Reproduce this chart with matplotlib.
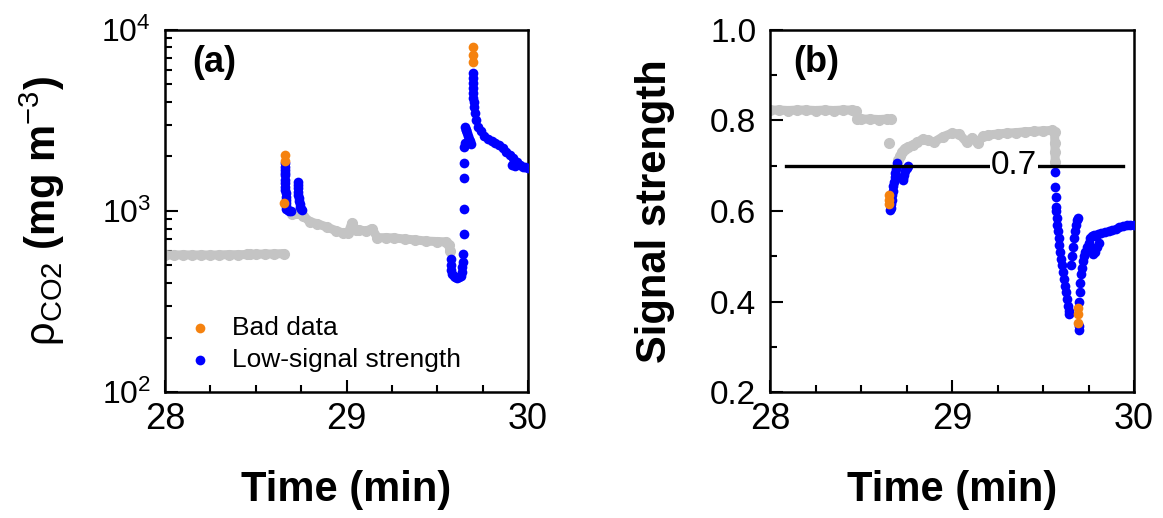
import matplotlib
matplotlib.use('Agg')
import matplotlib.pyplot as plt
from matplotlib.ticker import MultipleLocator, LogLocator, NullFormatter, FormatStrFormatter

plt.rcParams['font.family'] = ['Liberation Sans', 'DejaVu Sans']
plt.rcParams['mathtext.fontset'] = 'custom'
plt.rcParams['mathtext.rm'] = 'Liberation Sans'
plt.rcParams['mathtext.it'] = 'Liberation Sans:italic'
plt.rcParams['mathtext.bf'] = 'Liberation Sans:bold'
plt.rcParams['mathtext.default'] = 'regular'

GRAY = '#c4c4c4'
BLUE = '#0000ff'
ORANGE = '#f5820f'

# ---------------- Panel (a): CO2 density (mg m-3) ----------------
gray_a1_t = [28.00, 28.05, 28.10, 28.15, 28.20, 28.25, 28.30, 28.35, 28.40, 28.45, 28.47, 28.50, 28.55, 28.60, 28.655]
gray_a1_v = [572, 571, 573, 571, 572, 571, 572, 574, 573, 575, 578, 577, 579, 579, 582]

gray_a2_t = [28.700, 28.720, 28.760, 28.800, 28.840, 28.890, 28.940, 28.980, 29.010, 29.030, 29.050, 29.070,
             29.110, 29.140, 29.170, 29.220, 29.260, 29.320, 29.380, 29.440, 29.500, 29.550, 29.565, 29.570]
gray_a2_v = [960, 975, 940, 870, 850, 816, 780, 756, 760, 860, 790, 785,
             775, 800, 712, 712, 710, 700, 692, 682, 678, 675, 650, 600]

blue_a_t = [28.661, 28.661, 28.661, 28.662, 28.662, 28.663, 28.663, 28.663, 28.663, 28.664, 28.664, 28.665, 28.665,
            28.666, 28.668, 28.676, 28.685, 28.695,
            28.733, 28.733, 28.733, 28.734, 28.735, 28.736, 28.738, 28.742, 28.746, 28.750, 28.755,
            29.573, 29.575, 29.578, 29.582, 29.590, 29.600, 29.610, 29.620, 29.630, 29.635, 29.638, 29.640, 29.642,
            29.645, 29.645, 29.645, 29.646, 29.647, 29.655, 29.660, 29.653, 29.658, 29.663, 29.668, 29.673, 29.680, 29.688,
            29.697, 29.697, 29.697, 29.698, 29.698, 29.699, 29.700, 29.703, 29.708, 29.715, 29.725, 29.740, 29.760,
            29.780, 29.800, 29.820, 29.840, 29.860, 29.880, 29.900, 29.910, 29.920, 29.930, 29.940, 29.955, 29.970,
            29.985, 30.000]
blue_a_v = [1830, 1760, 1690, 1620, 1580, 1480, 1420, 1360, 1300, 1250, 1200, 1150, 1100,
            1060, 1030, 1015, 1005, 1000,
            1450, 1400, 1340, 1280, 1230, 1180, 1130, 1090, 1050, 1020, 1010,
            540, 500, 470, 450, 435, 430, 428, 430, 440, 460, 490, 520, 578,
            746, 1026, 1520, 1841, 2258, 2376, 2806, 2912, 2800, 2700, 2600, 2500, 2420, 2330,
            5780, 5400, 5090, 4780, 4490, 4230, 4000, 3750, 3480, 3200, 2910, 2750, 2600,
            2500, 2420, 2380, 2300, 2220, 2130, 2050, 1800, 1950, 1780, 1870, 1800, 1760,
            1740, 1720]

orange_a_t = [28.660, 28.660, 28.655, 29.697, 29.697, 29.697]
orange_a_v = [2040, 1890, 1100, 8050, 7280, 6660]

# ---------------- Panel (b): Signal strength ----------------
gray_b1_t = [28.00, 28.05, 28.10, 28.15, 28.20, 28.25, 28.30, 28.35, 28.40, 28.45, 28.475,
             28.480, 28.50, 28.55, 28.60, 28.64, 28.665]
gray_b1_v = [0.823, 0.823, 0.822, 0.823, 0.823, 0.822, 0.823, 0.822, 0.823, 0.823, 0.822,
             0.803, 0.803, 0.803, 0.802, 0.803, 0.803]

gray_b2_t = [28.652]
gray_b2_v = [0.750]

gray_b3_t = [28.705, 28.715, 28.725, 28.740, 28.760, 28.785, 28.810, 28.840, 28.870, 28.900, 28.950, 29.000,
             29.040, 29.080, 29.110, 29.140, 29.170, 29.200, 29.250, 29.300, 29.350, 29.400, 29.450, 29.500,
             29.550, 29.563, 29.565, 29.566, 29.567]
gray_b3_v = [0.712, 0.722, 0.730, 0.738, 0.742, 0.746, 0.752, 0.759, 0.756, 0.752, 0.764, 0.772,
             0.770, 0.752, 0.762, 0.750, 0.765, 0.768, 0.770, 0.772, 0.773, 0.775, 0.776, 0.777,
             0.778, 0.775, 0.750, 0.730, 0.708]

blue_b_t = [28.660, 28.662, 28.665, 28.668, 28.670, 28.673, 28.676, 28.680, 28.684, 28.688, 28.692, 28.697, 28.700,
            28.728, 28.730, 28.735, 28.742, 28.750, 28.758,
            29.568, 29.568, 29.569, 29.570, 29.572, 29.575, 29.578, 29.582, 29.586, 29.590, 29.595, 29.600, 29.605,
            29.610, 29.615, 29.620, 29.625, 29.630, 29.635, 29.640, 29.645,
            29.655, 29.660, 29.665, 29.670, 29.675, 29.680, 29.685, 29.690,
            29.695, 29.698, 29.700, 29.702, 29.705, 29.708, 29.712, 29.718, 29.725, 29.732, 29.740, 29.750,
            29.760, 29.770, 29.780, 29.790, 29.800, 29.820, 29.840, 29.860, 29.880, 29.900, 29.920, 29.940,
            29.960, 29.980, 30.000,
            29.765, 29.775, 29.785, 29.795, 29.805]
blue_b_v = [0.602, 0.607, 0.615, 0.625, 0.635, 0.645, 0.655, 0.665, 0.675, 0.685, 0.693, 0.700, 0.705,
            0.668, 0.673, 0.680, 0.688, 0.695, 0.700,
            0.686, 0.653, 0.631, 0.609, 0.600, 0.585, 0.570, 0.555, 0.540, 0.525, 0.510, 0.495, 0.480,
            0.465, 0.450, 0.435, 0.420, 0.405, 0.390, 0.378, 0.372,
            0.480, 0.500, 0.520, 0.540, 0.555, 0.570, 0.580, 0.585,
            0.338, 0.345, 0.400, 0.420, 0.440, 0.460, 0.475, 0.490, 0.500, 0.510, 0.520, 0.530,
            0.540, 0.545, 0.548, 0.545, 0.550, 0.552, 0.554, 0.556, 0.558, 0.560, 0.564, 0.566,
            0.568, 0.569, 0.570,
            0.515, 0.505, 0.510, 0.520, 0.530]

orange_b_t = [28.652, 28.652, 28.654, 29.690, 29.690, 29.690]
orange_b_v = [0.635, 0.625, 0.615, 0.386, 0.372, 0.352]

threshold = 0.7

# ---------------- Figure ----------------
fig = plt.figure(figsize=(11.63, 5.18), dpi=100)
axa = fig.add_axes([0.1419, 0.2432, 0.3121, 0.699])
axb = fig.add_axes([0.6621, 0.2432, 0.3130, 0.699])

MS = 7.0
S = MS ** 2
LW = 6.5

for t, v in [(gray_a1_t, gray_a1_v), (gray_a2_t, gray_a2_v)]:
    axa.plot(t, v, '-o', color=GRAY, lw=LW, ms=MS, solid_capstyle='round', zorder=2)
hb = axa.scatter(blue_a_t, blue_a_v, s=S, color=BLUE, lw=0, zorder=3, label='Low-signal strength')
ho = axa.scatter(orange_a_t, orange_a_v, s=S, color=ORANGE, lw=0, zorder=4, label='Bad data')

for t, v in [(gray_b1_t, gray_b1_v), (gray_b2_t, gray_b2_v), (gray_b3_t, gray_b3_v)]:
    axb.plot(t, v, '-o', color=GRAY, lw=LW, ms=MS, solid_capstyle='round', zorder=2)
axb.scatter(blue_b_t, blue_b_v, s=S, color=BLUE, lw=0, zorder=3)
axb.scatter(orange_b_t, orange_b_v, s=S, color=ORANGE, lw=0, zorder=4)

axb.plot([28.09, 29.94], [threshold, threshold], color='black', lw=2.4, zorder=5)
axb.text(29.34, threshold, '0.7', fontsize=24, ha='center', va='center', zorder=6,
         bbox=dict(facecolor='white', edgecolor='none', pad=1))

# Axes (a)
axa.set_yscale('log')
axa.set_ylim(100, 10000)
axa.set_xlim(28, 30)
axa.yaxis.set_major_locator(LogLocator(base=10, numticks=10))
axa.yaxis.set_minor_locator(LogLocator(base=10, subs=range(2, 10), numticks=20))
axa.yaxis.set_minor_formatter(NullFormatter())

# Axes (b)
axb.set_ylim(0.2, 1.0)
axb.set_xlim(28, 30)
axb.yaxis.set_major_locator(MultipleLocator(0.2))
axb.yaxis.set_minor_locator(MultipleLocator(0.1))
axb.yaxis.set_major_formatter(FormatStrFormatter('%.1f'))

for ax in (axa, axb):
    ax.xaxis.set_major_locator(MultipleLocator(1))
    ax.xaxis.set_minor_locator(MultipleLocator(0.25))
    ax.tick_params(which='both', direction='in', top=False, right=False, width=1.5)
    ax.tick_params(which='major', length=9)
    ax.tick_params(which='minor', length=5)
    ax.tick_params(axis='x', labelsize=26, pad=7)
    for sp in ax.spines.values():
        sp.set_linewidth(1.8)
    ax.set_xlabel('Time (min)', fontsize=30, fontweight='bold')
    ax.xaxis.set_label_coords(0.5, -0.215)

axa.tick_params(axis='y', labelsize=23, pad=10)
axb.tick_params(axis='y', labelsize=24, pad=10)

axa.set_ylabel(r'$\rho_{\mathrm{CO2}}$ $\mathbf{(mg\ m}^{\mathrm{-3}}\mathbf{)}$', fontsize=30)
axa.yaxis.set_label_coords(-0.27, 0.5)
axb.set_ylabel('Signal strength', fontsize=30, fontweight='bold')
axb.yaxis.set_label_coords(-0.261, 0.5)

axa.text(0.074, 0.91, '(a)', transform=axa.transAxes, fontsize=26, fontweight='bold', va='center', ha='left')
axb.text(0.063, 0.91, '(b)', transform=axb.transAxes, fontsize=26, fontweight='bold', va='center', ha='left')

axa.legend(handles=[ho, hb], loc='lower left', bbox_to_anchor=(0.06, 0.055), frameon=False,
           fontsize=19, handlelength=1.0, handletextpad=0.7, labelspacing=0.3,
           borderpad=0, borderaxespad=0, scatterpoints=1, markerscale=1.0)

fig.savefig('out.png', dpi=100)
